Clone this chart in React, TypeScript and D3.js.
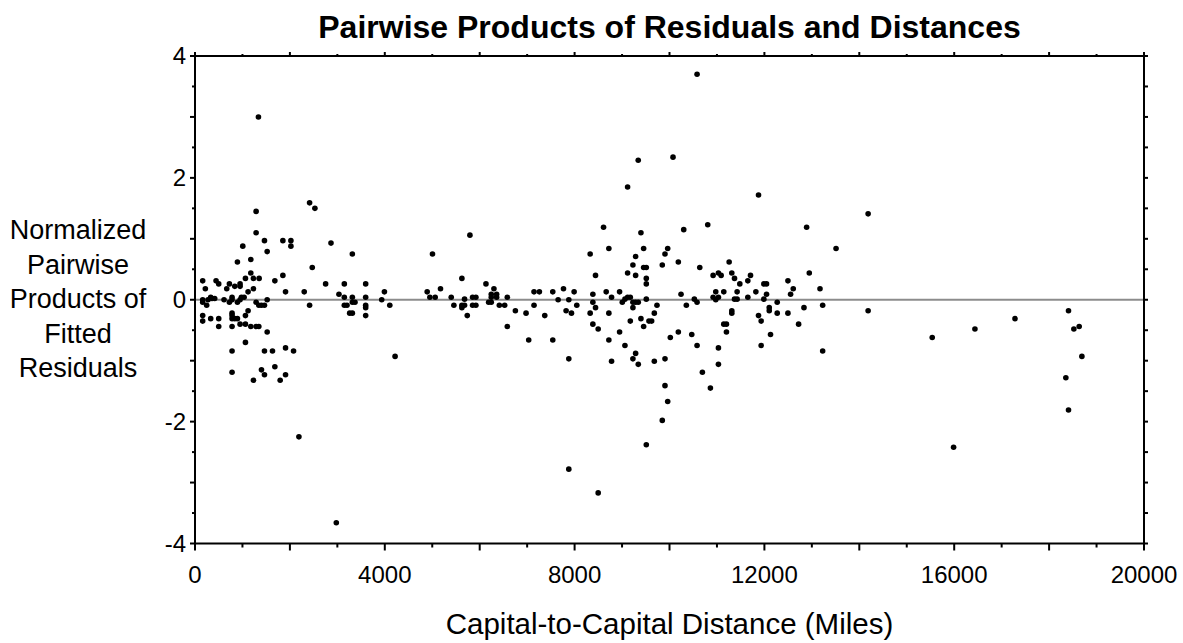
import React from 'react';
import * as d3 from 'd3';

const WIDTH = 1183;
const HEIGHT = 643;

// [distance in miles, normalized product]
const shortPairs: [number, number][] = [
  [1337, 3.0], [2415, 1.59], [2527, 1.5], [1288, 1.45], [1288, 1.1], [1007, 0.88],
  [1464, 0.97], [1521, 0.79], [1852, 0.97], [2021, 0.97], [2021, 0.88], [2866, 0.93],
  [3316, 0.75], [2471, 0.53], [894, 0.62], [1176, 0.66], [1176, 0.44], [1063, 0.35],
  [1232, 0.35], [1352, 0.35], [1852, 0.4], [1683, 0.31], [162, 0.31], [218, 0.18],
  [444, 0.31], [500, 0.26], [669, 0.18], [725, 0.26], [838, 0.22], [950, 0.26],
  [950, 0.22], [1119, 0.13], [1232, 0.18], [1908, 0.13], [2302, 0.13], [2753, 0.26],
  [3147, 0.26], [3597, 0.26], [3992, 0.13], [3034, 0.09], [3147, 0.04], [3316, 0.04],
  [3597, 0.04], [3935, 0.0], [162, 0.0], [162, -0.04], [246, -0.09], [275, 0.0],
  [331, 0.04], [359, 0.02], [415, 0.02], [612, 0.0], [725, -0.04], [781, 0.04],
  [781, 0.0], [894, -0.04], [950, 0.0], [978, 0.04], [1035, 0.04], [1288, -0.04],
  [1345, -0.09], [1401, -0.09], [1464, -0.09], [1521, 0.0], [2415, -0.09],
  [162, -0.26], [162, -0.35], [331, -0.31], [500, -0.31], [500, -0.44], [781, -0.22],
  [781, -0.26], [781, -0.31], [838, -0.31], [781, -0.44], [894, -0.31], [950, -0.4],
  [1063, -0.4], [1063, -0.26], [1119, -0.18], [1176, -0.44], [1288, -0.44], [1345, -0.44],
  [1521, -0.53], [1063, -0.7], [781, -0.84], [1464, -0.84], [1633, -0.84], [1908, -0.79],
  [2077, -0.84], [781, -1.19], [1401, -1.15], [1464, -1.23], [1683, -1.1], [1232, -1.32],
  [1795, -1.32], [1908, -1.23], [2190, -2.25], [2978, -3.66], [3147, -0.09], [3203, -0.09],
  [3316, -0.04], [3372, -0.04], [3260, -0.22], [3316, -0.22], [3597, -0.09], [3597, -0.13],
  [3597, -0.26], [4105, -0.09], [4217, -0.93],
];

const midPairs: [number, number][] = [
  [5794, 1.06], [5005, 0.75], [5625, 0.35], [6132, 0.26], [5174, 0.18], [6300, 0.18],
  [7766, 0.18], [4893, 0.13], [7145, 0.13], [7258, 0.13], [7540, 0.13], [7990, 0.13],
  [4950, 0.04], [5062, 0.04], [5400, 0.04], [5850, 0.04], [5920, 0.04], [6244, 0.09],
  [6244, 0.04], [6357, 0.09], [6357, 0.04], [6582, 0.04], [5681, 0.01], [7653, 0.0],
  [7878, 0.0], [5456, -0.09], [5625, -0.09], [5625, -0.13], [5681, -0.09], [5738, -0.26],
  [5850, -0.09], [5920, -0.09], [6188, -0.04], [6244, -0.04], [6414, -0.09], [6526, -0.09],
  [6582, -0.44], [6752, -0.18], [6977, -0.22], [7033, -0.66], [7145, -0.09], [7371, -0.26],
  [7540, -0.66], [7821, -0.18], [7878, -0.97], [7878, -2.78], [7934, -0.22], [8046, -0.09],
];

const longPairs: [number, number][] = [
  [10581, 3.7], [9341, 2.29], [10074, 2.34], [9117, 1.85], [11876, 1.72], [8610, 1.19],
  [10806, 1.23], [9398, 1.1], [10300, 1.15], [8328, 0.75], [8722, 0.84], [9455, 0.84],
  [9962, 0.84], [9905, 0.75], [9286, 0.71], [9229, 0.57], [10186, 0.62], [9848, 0.57],
  [9455, 0.53], [9511, 0.53], [11257, 0.62], [10638, 0.53], [9117, 0.44], [9511, 0.35],
  [9511, 0.26], [9286, 0.4], [8441, 0.4], [10919, 0.4], [11031, 0.44], [11088, 0.4],
  [11313, 0.44], [11370, 0.35], [11482, 0.26], [11651, 0.31], [11707, 0.4], [11989, 0.26],
  [12045, 0.26], [8385, 0.09], [8666, 0.13], [8779, 0.04], [8948, 0.13], [9117, 0.04],
  [9174, 0.04], [9061, 0.01], [9511, 0.01], [10243, 0.09], [10524, 0.01], [10975, 0.13],
  [10919, 0.04], [11031, 0.04], [11144, 0.13], [11425, 0.13], [11370, 0.01], [11425, 0.01],
  [11651, 0.04], [11820, 0.13], [11989, 0.01], [12045, 0.09],
  [8385, -0.04], [8441, -0.13], [8328, -0.22], [8385, -0.4], [8497, -0.48], [8497, -3.17],
  [8722, -0.22], [8722, -0.66], [8779, -1.01], [8948, -0.53], [9005, -0.04], [9061, -0.75],
  [9174, -0.35], [9229, -0.04], [9229, -0.13], [9286, -0.04], [9342, -0.04], [9286, -0.88],
  [9229, -0.97], [9342, -1.06], [9398, -0.31], [9455, -0.44], [9511, -2.38], [9567, -0.35],
  [9624, -0.35], [9680, -0.22], [9680, -1.01], [9736, -0.09], [9848, -1.98], [9905, -0.97],
  [9905, -1.41], [9962, -1.67], [10017, -0.62], [10186, -0.53], [10355, -0.09], [10469, -0.57],
  [10581, -0.04], [10581, -0.75], [10693, -1.19], [10862, -1.45], [10975, 0.0], [11031, -0.79],
  [11031, -1.06], [11144, -0.4], [11200, -0.4], [11200, -0.53], [11313, -0.18], [11313, -0.22],
  [11876, -0.26], [11932, -0.35], [11932, -0.75], [12102, -0.13], [12102, -0.18], [12129, -0.57],
  [12270, -0.04], [12270, -0.22], [12496, -0.22], [12721, -0.4], [12834, -0.13], [13228, -0.09],
  [13228, -0.84], [14186, 1.41], [12890, 1.19], [13510, 0.84], [12946, 0.44], [12496, 0.31],
  [12608, 0.18], [13172, 0.18], [12552, 0.09],
];

const farPairs: [number, number][] = [
  [14186, -0.18], [15537, -0.62], [15987, -2.42], [16437, -0.48], [17282, -0.31],
  [18409, -0.18], [18522, -0.48], [18634, -0.44], [18691, -0.93], [18353, -1.28], [18409, -1.81],
];

const xTickLabels = [0, 4000, 8000, 12000, 16000, 20000];
const yTickLabels = [-4, -2, 0, 2, 4];
const yLabelLines = ['Normalized', 'Pairwise', 'Products of', 'Fitted', 'Residuals'];

const FONT = '"Liberation Sans", Arial, sans-serif';

export default function App() {
  const x = d3.scaleLinear().domain([0, 20000]).range([195, 1144]);
  const y = d3.scaleLinear().domain([-4, 4]).range([543.5, 56]);
  const [x0, x1] = x.range();
  const [yb, yt] = y.range();

  const points = [...shortPairs, ...midPairs, ...longPairs, ...farPairs];
  const xMinor = d3.range(0, 20001, 1000);
  const yMinor = d3.range(-4, 4.01, 0.5);

  return (
    <svg
      width={WIDTH}
      height={HEIGHT}
      style={{ position: 'absolute', left: 0, top: 0, background: '#fff' }}
      fontFamily={FONT}
    >
      <text x={669.5} y={38} textAnchor="middle" fontSize={32} fontWeight="bold">
        Pairwise Products of Residuals and Distances
      </text>

      {/* zero reference line */}
      <line x1={x0} x2={x1} y1={y(0)} y2={y(0)} stroke="#8c8c8c" strokeWidth={2} />

      {/* frame */}
      <rect x={x0} y={yt} width={x1 - x0} height={yb - yt} fill="none" stroke="#000" strokeWidth={2} />

      {/* bottom + top ticks */}
      {xMinor.map((v) => {
        const major = v % 2000 === 0;
        return (
          <g key={`xt${v}`}>
            <line x1={x(v)} x2={x(v)} y1={yb} y2={yb + (major ? 7 : 4)} stroke="#000" strokeWidth={2} />
            <line x1={x(v)} x2={x(v)} y1={yt} y2={yt - (major ? 4 : 2)} stroke="#000" strokeWidth={2} />
          </g>
        );
      })}
      {xTickLabels.map((v) => (
        <text key={`xl${v}`} x={x(v)} y={583} textAnchor="middle" fontSize={24}>
          {v}
        </text>
      ))}

      {/* left + right ticks */}
      {yMinor.map((v) => {
        const major = Number.isInteger(v);
        return (
          <g key={`yt${v}`}>
            <line x1={x0} x2={x0 - (major ? 5 : 3)} y1={y(v)} y2={y(v)} stroke="#000" strokeWidth={2} />
            <line x1={x1} x2={x1 + 4} y1={y(v)} y2={y(v)} stroke="#000" strokeWidth={2} />
          </g>
        );
      })}
      {yTickLabels.map((v) => (
        <text key={`yl${v}`} x={186} y={y(v)} dy="0.35em" textAnchor="end" fontSize={24}>
          {v}
        </text>
      ))}

      {/* points */}
      {points.map(([d, p], i) => (
        <circle key={i} cx={x(d)} cy={y(p)} r={2.8} fill="#000" />
      ))}

      <text x={669.5} y={634} textAnchor="middle" fontSize={29.5}>
        Capital-to-Capital Distance (Miles)
      </text>

      {yLabelLines.map((t, i) => (
        <text key={t} x={78} y={230 + i * 34.5} dy="0.35em" textAnchor="middle" fontSize={27}>
          {t}
        </text>
      ))}
    </svg>
  );
}
